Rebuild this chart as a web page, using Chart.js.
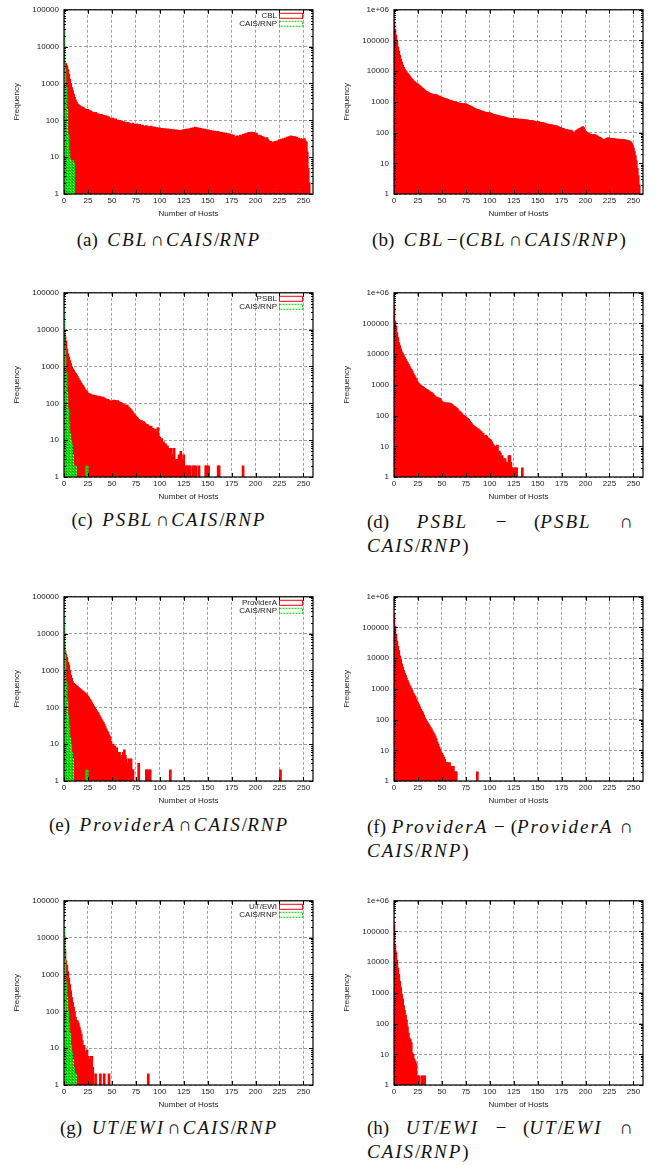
<!DOCTYPE html>
<html lang="en">
<head>
<meta charset="UTF-8" />
<title>Hosts per prefix histograms</title>
<script src="https://cdn.jsdelivr.net/npm/chart.js"></script>
<style>
  body { margin: 0; background: #fff; width: 665px; height: 1165px; position: relative; overflow: hidden; }
  canvas { position: absolute; }
  .cap { position: absolute; font-family: "Liberation Serif", "DejaVu Serif", serif; font-size: 19px; line-height: 24px; color: #111; white-space: nowrap; }
  .cap.one { width: 338px; text-align: center; }
  .cap.two { width: 266px; }
  .cap .j { text-align: justify; text-align-last: justify; }
  .cap i { font-style: italic; letter-spacing: 2px; }
  .cap .op { margin: 0 2px; }
</style>
</head>
<body>

<canvas id="pa" width="330" height="222" style="left:0;top:0"></canvas>
<canvas id="pb" width="330" height="222" style="left:330px;top:0"></canvas>
<canvas id="pc" width="330" height="222" style="left:0;top:283px"></canvas>
<canvas id="pd" width="330" height="222" style="left:330px;top:283px"></canvas>
<canvas id="pe" width="330" height="222" style="left:0;top:587px"></canvas>
<canvas id="pf" width="330" height="222" style="left:330px;top:587px"></canvas>
<canvas id="pg" width="330" height="222" style="left:0;top:891px"></canvas>
<canvas id="ph" width="330" height="222" style="left:330px;top:891px"></canvas>

<div class="cap one" style="left:0;top:228px">(a)&ensp;<i>CBL</i><span class="op">∩</span><i>CAIS</i>/<i>RNP</i></div>
<div class="cap one" style="left:330px;top:228px">(b)&ensp;<i>CBL</i><span class="op">−</span>(<i>CBL</i><span class="op">∩</span><i>CAIS</i>/<i>RNP</i>)</div>
<div class="cap one" style="left:0;top:508px">(c)&ensp;<i>PSBL</i><span class="op">∩</span><i>CAIS</i>/<i>RNP</i></div>
<div class="cap two" style="left:367px;top:510px"><div class="j">(d) <i>PSBL</i> − (<i>PSBL</i> ∩</div><div><i>CAIS</i>/<i>RNP</i>)</div></div>
<div class="cap one" style="left:0;top:813px">(e)&ensp;<i>ProviderA</i><span class="op">∩</span><i>CAIS</i>/<i>RNP</i></div>
<div class="cap two" style="left:367px;top:815px"><div class="j">(f) <i>ProviderA</i> − (<i>ProviderA</i> ∩</div><div><i>CAIS</i>/<i>RNP</i>)</div></div>
<div class="cap one" style="left:0;top:1116px">(g)&ensp;<i>UT</i>/<i>EWI</i><span class="op">∩</span><i>CAIS</i>/<i>RNP</i></div>
<div class="cap two" style="left:367px;top:1116px"><div class="j">(h) <i>UT</i>/<i>EWI</i> − (<i>UT</i>/<i>EWI</i> ∩</div><div><i>CAIS</i>/<i>RNP</i>)</div></div>

<script>
// axis ticks
const hostTicks = [0, 25, 50, 75, 100, 125, 150, 175, 200, 225, 250];
const freqTicks = [1, 10, 100, 1000, 10000, 100000, 1000000];
const freqTickText = ['1', '10', '100', '1000', '10000', '100000', '1e+06'];

// frequency per number of hosts, index = number of hosts
// (a) CBL ∩ CAIS/RNP
const cblBoth = [
  3600, 3600, 3500, 3000, 2400, 1800, 1300, 1000, 780, 640,
  520, 420, 360, 320, 280, 270, 255, 245, 235, 225,
  230, 210, 205, 198, 192, 200, 185, 178, 182, 170,
  165, 160, 150, 165, 155, 145, 150, 140, 135, 145,
  130, 140, 125, 135, 120, 130, 115, 125, 113, 110,
  105, 115, 108, 100, 110, 98, 102, 95, 100, 92,
  96, 88, 92, 85, 90, 84, 80, 88, 78, 82,
  80, 76, 84, 74, 78, 72, 80, 70, 75, 78,
  72, 68, 74, 66, 70, 64, 72, 66, 62, 68,
  65, 70, 63, 67, 60, 66, 58, 64, 62, 60,
  63, 57, 61, 59, 55, 60, 58, 54, 59, 56,
  58, 53, 57, 55, 52, 56, 54, 51, 55, 53,
  52, 54, 50, 53, 55, 54, 57, 56, 58, 55,
  59, 57, 60, 62, 58, 63, 60, 66, 61, 64,
  60, 62, 58, 61, 56, 59, 55, 58, 54, 56,
  53, 55, 51, 54, 50, 52, 49, 51, 48, 50,
  47, 50, 46, 48, 45, 47, 44, 46, 43, 45,
  42, 44, 40, 43, 39, 41, 38, 40, 36, 35,
  34, 38, 33, 36, 40, 35, 38, 42, 40, 44,
  41, 45, 43, 47, 44, 46, 48, 45, 47, 44,
  42, 45, 40, 38, 36, 39, 34, 37, 32, 35,
  33, 31, 34, 30, 28, 26, 27, 25, 24, 26,
  25, 27, 26, 28, 27, 30, 28, 31, 29, 32,
  30, 33, 31, 35, 32, 36, 34, 38, 35, 37,
  34, 36, 33, 35, 31, 33, 30, 32, 29, 31,
  30, 32, 28, 26, 14, 5, 2
];
const caisCbl = [31000, 2500, 800, 200, 40, 15, 9, 8, 8, 8, 7];

// (b) CBL − (CBL ∩ CAIS/RNP)
const cblOnly = [
  390000, 230000, 150000, 95000, 62000, 45000, 33000, 25000, 20000, 16000,
  13500, 11800, 10500, 9500, 8600, 7900, 7200, 6600, 5900, 5400,
  5000, 4700, 4400, 4150, 3950, 3800, 3550, 3350, 3150, 2950,
  2750, 2600, 2450, 2300, 2200, 2150, 2050, 1950, 1900, 1850,
  1800, 1780, 1740, 1700, 1720, 1680, 1620, 1560, 1500, 1460,
  1420, 1380, 1340, 1300, 1270, 1250, 1220, 1180, 1150, 1120,
  1100, 1070, 1040, 1010, 990, 1000, 970, 940, 920, 900,
  880, 890, 870, 860, 880, 870, 840, 800, 770, 750,
  730, 710, 680, 650, 620, 600, 580, 570, 560, 540,
  530, 510, 500, 490, 480, 470, 460, 455, 450, 445,
  440, 430, 415, 400, 395, 390, 380, 370, 360, 355,
  350, 345, 340, 335, 330, 325, 320, 312, 305, 300,
  300, 295, 292, 288, 290, 290, 285, 280, 278, 282,
  275, 272, 270, 274, 268, 270, 265, 262, 258, 260,
  255, 250, 252, 248, 245, 245, 240, 232, 228, 230,
  225, 228, 220, 218, 215, 215, 210, 205, 198, 195,
  190, 188, 185, 182, 180, 178, 175, 172, 168, 165,
  165, 160, 155, 150, 145, 140, 138, 135, 130, 128,
  123, 125, 120, 118, 117, 120, 112, 105, 96, 100,
  115, 118, 125, 130, 138, 140, 150, 158, 145, 125,
  110, 105, 100, 95, 92, 90, 88, 87, 86, 85,
  86, 82, 78, 75, 72, 70, 68, 64, 60, 58,
  59, 62, 65, 68, 67, 66, 63, 65, 64, 62,
  64, 63, 61, 62, 60, 62, 61, 59, 60, 58,
  59, 57, 58, 56, 55, 55, 53, 50, 46, 40,
  32, 24, 18, 12, 7, 4, 2
];

// (c) PSBL ∩ CAIS/RNP
const psblBoth = [
  7500, 6800, 5000, 3000, 2200, 1800, 1450, 1200, 980, 880,
  790, 720, 650, 590, 530, 480, 430, 390, 350, 320,
  300, 270, 240, 225, 210, 190, 185, 180, 175, 170,
  165, 168, 160, 162, 158, 155, 157, 150, 152, 148,
  145, 147, 140, 135, 130, 125, 128, 120, 115, 110,
  115, 118, 122, 120, 117, 115, 118, 112, 108, 106,
  103, 100, 96, 93, 88, 84, 90, 80, 76, 72,
  68, 62, 56, 52, 48, 45, 42, 40, 37, 35,
  33, 34, 31, 32, 30, 28, 26, 27, 25, 23,
  22, 24, 20, 21, 19, 20, 17, 15, 22, 13,
  12, 10, 11, 8, 9, 7, 8, 6, 7, 5,
  6, 2, 6, 4, 3, 6, 2, 3, 2, 3,
  4, 2, 5, 3, 2, 4, 2, 2, 1, 2,
  2, 1, 2, 1, 0, 2, 2, 0, 2, 0,
  0, 2
];
const psblSpikeHosts = [148, 149, 151, 161, 162, 187];
const psblSpikeCounts = [2, 2, 2, 2, 2, 2];
const caisPsbl = [32000, 3000, 700, 200, 70, 30, 15, 10, 8, 4, 1, 0, 2, 0, 0, 0, 0, 0, 0, 0, 0, 0, 0, 0, 2];

// (d) PSBL − (PSBL ∩ CAIS/RNP)
const psblOnly = [
  350000, 120000, 82000, 50000, 35000, 24000, 19000, 15000, 12000, 10500,
  9000, 8000, 7000, 6100, 5300, 4700, 4100, 3600, 3200, 2800,
  2400, 2100, 1850, 1600, 1350, 1200, 1100, 1000, 960, 920,
  880, 830, 780, 740, 720, 690, 650, 610, 580, 560,
  540, 500, 460, 420, 400, 390, 380, 370, 360, 330,
  290, 275, 265, 260, 258, 262, 255, 258, 255, 250,
  240, 225, 210, 200, 190, 180, 170, 155, 140, 132,
  125, 115, 105, 100, 95, 90, 85, 80, 76, 68,
  60, 55, 50, 47, 45, 42, 40, 38, 37, 34,
  32, 30, 25, 27, 22, 20, 23, 21, 19, 18,
  17, 16, 14, 12, 11, 9, 10, 7, 11, 4,
  7, 6, 4, 5, 4, 3, 4, 3, 3, 3,
  5, 5, 3, 2, 2, 0, 2, 2, 2, 0,
  0, 0, 0, 0, 2
];

// (e) ProviderA ∩ CAIS/RNP
const provBoth = [
  5800, 3500, 2800, 2300, 1700, 1400, 1000, 750, 610, 500,
  450, 430, 410, 390, 370, 350, 330, 315, 300, 285,
  270, 258, 245, 232, 220, 200, 180, 165, 150, 135,
  120, 108, 98, 88, 80, 74, 68, 60, 53, 48,
  43, 39, 35, 30, 26, 23, 21, 18, 16, 12,
  9, 10, 8, 9, 7, 8, 6, 5, 6, 4,
  4, 5, 6, 7, 5, 4, 3, 2, 4, 3,
  4, 2, 2
];
const provSpikeHosts = [78, 86, 87, 89, 90, 111, 226];
const provSpikeCounts = [3, 2, 2, 2, 2, 2, 2];
const caisProv = [32000, 3000, 500, 150, 60, 30, 15, 10, 6, 4, 0, 0, 0, 0, 0, 0, 0, 0, 0, 0, 0, 0, 0, 0, 2];

// (f) ProviderA − (ProviderA ∩ CAIS/RNP)
const provOnly = [
  290000, 110000, 60000, 36000, 25000, 17600, 12000, 9000, 6600, 5200,
  4000, 3300, 2800, 2300, 1900, 1600, 1350, 1200, 1050, 880,
  730, 650, 570, 480, 400, 350, 310, 260, 215, 190,
  170, 140, 115, 100, 90, 80, 71, 63, 56, 50,
  43, 38, 34, 29, 24, 19, 16, 13, 11, 9,
  8, 7, 6, 5, 4, 4, 4, 3, 4, 3,
  3, 2, 3, 2, 2, 2
];
const provOnlySpikeHosts = [87];
const provOnlySpikeCounts = [2];

// (g) UT/EWI ∩ CAIS/RNP
const utBoth = [
  11000, 5000, 2400, 1800, 1200, 800, 530, 360, 240, 175,
  130, 95, 70, 57, 55, 48, 38, 30, 24, 16,
  11, 12, 6, 8, 9, 6, 4, 5, 6, 6,
  3
];
const utSpikeHosts = [33, 38, 42, 47, 88];
const utSpikeCounts = [2, 2, 2, 2, 2];
const caisUt = [20000, 2500, 600, 250, 100, 50, 25, 12, 8, 5, 3, 2, 2];

// (h) UT/EWI − (UT/EWI ∩ CAIS/RNP)
const utOnly = [
  170000, 35000, 22000, 11700, 6500, 4000, 2400, 1500, 920, 640,
  390, 270, 190, 130, 80, 49, 34, 30, 24, 11,
  10, 7, 6, 5, 2, 2, 2, 0, 0, 2,
  0, 2, 2
];

function toPoints(counts, extraHosts = [], extraCounts = []) {
  const pts = [];
  counts.forEach((c, h) => { if (c > 0) pts.push({ x: h, y: c }); });
  extraHosts.forEach((h, i) => pts.push({ x: h, y: extraCounts[i] }));
  return pts;
}

function hatch() {
  const c = document.createElement('canvas');
  c.width = 3; c.height = 3;
  const g = c.getContext('2d');
  g.fillStyle = '#00e600'; g.fillRect(0, 0, 3, 3);
  g.fillStyle = '#b0ffb0'; g.fillRect(1, 1, 1, 1);
  g.fillStyle = '#009000'; g.fillRect(0, 2, 1, 1);
  return g.createPattern(c, 'repeat');
}

const redSet = (label, pts) => ({ label, data: pts, backgroundColor: '#ff0000', order: 1 });
const greenSet = (label, pts) => ({ label, data: pts, backgroundColor: hatch(), order: 0 });

const axisFont = { family: '"Liberation Sans", Arial, sans-serif', size: 8 };
const textColor = '#222';

// border box, mirrored ticks and the gnuplot style key
const framePlugin = {
  id: 'frame',
  afterDatasetsDraw(chart, args, opts) {
    const { ctx, chartArea: a, scales: { x, y } } = chart;
    ctx.save();
    ctx.strokeStyle = '#000';
    ctx.lineWidth = 1;
    ctx.beginPath();
    x.ticks.forEach(t => {
      const px = Math.round(x.getPixelForValue(t.value)) + 0.5;
      ctx.moveTo(px, a.bottom); ctx.lineTo(px, a.bottom - 4);
      ctx.moveTo(px, a.top); ctx.lineTo(px, a.top + 4);
    });
    y.ticks.forEach((t, i) => {
      const py = Math.round(y.getPixelForValue(t.value)) + 0.5;
      ctx.moveTo(a.left, py); ctx.lineTo(a.left + 4, py);
      ctx.moveTo(a.right, py); ctx.lineTo(a.right - 4, py);
      if (i < y.ticks.length - 1) {
        for (let m = 2; m < 10; m++) {
          const pm = Math.round(y.getPixelForValue(t.value * m)) + 0.5;
          ctx.moveTo(a.left, pm); ctx.lineTo(a.left + 2, pm);
          ctx.moveTo(a.right, pm); ctx.lineTo(a.right - 2, pm);
        }
      }
    });
    ctx.stroke();
    ctx.lineWidth = 1.2;
    ctx.strokeRect(a.left, a.top, a.right - a.left, a.bottom - a.top);

    if (opts.key) {
      ctx.font = '8px "Liberation Sans", Arial, sans-serif';
      ctx.textAlign = 'right';
      ctx.textBaseline = 'middle';
      chart.data.datasets.forEach((ds, i) => {
        const cy = a.top + 6 + i * 8;
        ctx.fillStyle = textColor;
        ctx.fillText(ds.label, a.right - 36, cy);
        ctx.lineWidth = 1;
        if (i === 0) { ctx.strokeStyle = '#ff0000'; ctx.setLineDash([]); }
        else { ctx.strokeStyle = '#00cc00'; ctx.setLineDash([2, 1]); }
        ctx.strokeRect(a.right - 33.5, cy - 2.5, 23, 5);
      });
    }
    ctx.restore();
  }
};

function makeChart(id, datasets, yMax, key) {
  new Chart(document.getElementById(id), {
    type: 'bar',
    data: { datasets },
    options: {
      responsive: false,
      animation: false,
      layout: { padding: { top: 6, right: 17, left: 0, bottom: 0 } },
      datasets: { bar: { grouped: false, barPercentage: 2.2, categoryPercentage: 1, borderWidth: 0, inflateAmount: 0.3, clip: 0 } },
      plugins: { legend: { display: false }, tooltip: { enabled: false }, frame: { key } },
      scales: {
        x: {
          type: 'linear', min: 0, max: 260, offset: false,
          afterBuildTicks: s => { s.ticks = hostTicks.map(v => ({ value: v })); },
          afterFit: s => { s.height = 28; },
          grid: { color: '#a0a0a0', drawTicks: false, offset: false },
          border: { display: false, dash: [3, 2] },
          ticks: { padding: 2, maxRotation: 0, autoSkip: false, font: axisFont, color: textColor },
          title: { display: true, text: 'Number of Hosts', padding: { top: 0, bottom: 3 }, font: axisFont, color: textColor }
        },
        y: {
          type: 'logarithmic', min: 1, max: yMax,
          afterBuildTicks: s => { s.ticks = freqTicks.filter(v => v <= yMax).map(v => ({ value: v })); },
          afterFit: s => { s.width = 64; },
          grid: { color: '#a0a0a0', drawTicks: false },
          border: { display: false, dash: [3, 2] },
          ticks: { padding: 5, autoSkip: false, font: axisFont, color: textColor,
                   callback: v => freqTickText[freqTicks.indexOf(v)] },
          title: { display: true, text: 'Frequency', padding: { top: 12, bottom: 0 }, font: axisFont, color: textColor }
        }
      }
    },
    plugins: [framePlugin]
  });
}

makeChart('pa', [redSet('CBL', toPoints(cblBoth)), greenSet('CAIS/RNP', toPoints(caisCbl))], 100000, true);
makeChart('pb', [redSet('CBL', toPoints(cblOnly))], 1000000, false);
makeChart('pc', [redSet('PSBL', toPoints(psblBoth, psblSpikeHosts, psblSpikeCounts)), greenSet('CAIS/RNP', toPoints(caisPsbl))], 100000, true);
makeChart('pd', [redSet('PSBL', toPoints(psblOnly))], 1000000, false);
makeChart('pe', [redSet('ProviderA', toPoints(provBoth, provSpikeHosts, provSpikeCounts)), greenSet('CAIS/RNP', toPoints(caisProv))], 100000, true);
makeChart('pf', [redSet('ProviderA', toPoints(provOnly, provOnlySpikeHosts, provOnlySpikeCounts))], 1000000, false);
makeChart('pg', [redSet('UT/EWI', toPoints(utBoth, utSpikeHosts, utSpikeCounts)), greenSet('CAIS/RNP', toPoints(caisUt))], 100000, true);
makeChart('ph', [redSet('UT/EWI', toPoints(utOnly))], 1000000, false);
</script>
</body>
</html>
